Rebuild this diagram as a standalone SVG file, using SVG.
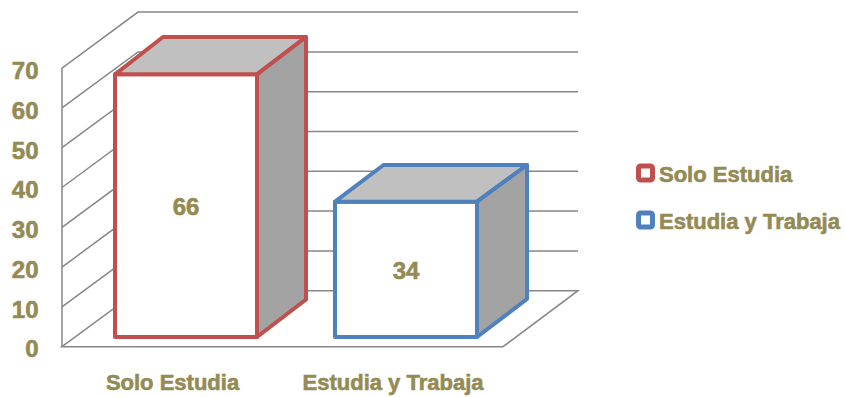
<svg xmlns="http://www.w3.org/2000/svg" width="846" height="397" viewBox="0 0 846 397">
<style>
.grid{stroke:#878787;stroke-width:1.5;fill:none}
.lbl{font-family:"Liberation Sans",Arial,sans-serif;font-weight:bold;fill:#948A54;stroke:#948A54;stroke-width:0.6}
.ax{font-size:24px;text-anchor:end}
.cat{font-size:22px;text-anchor:middle}
.val{font-size:24px;text-anchor:middle}
.leg{font-size:22px}
.front{fill:#FFFFFF}
.top{fill:#C0C0C0}
.side{fill:#A3A3A3}
.red{stroke:#C0504D;stroke-width:4;stroke-linejoin:round}
.blue{stroke:#4F81BD;stroke-width:4;stroke-linejoin:round}
</style>
<rect width="846" height="397" fill="#FFFFFF"/>
<g id="grid">
<path class="grid" d="M62,346.7 V68.1 L138,12.1 H578"/>
<path class="grid" d="M62,306.9 L138,250.9 H578"/>
<path class="grid" d="M62,267.1 L138,211.1 H578"/>
<path class="grid" d="M62,227.3 L138,171.3 H578"/>
<path class="grid" d="M62,187.5 L138,131.5 H578"/>
<path class="grid" d="M62,147.7 L138,91.7 H578"/>
<path class="grid" d="M62,107.9 L138,51.9 H578"/>
<path class="grid" d="M62,346.7 L138,290.7 H578 L503,346.7 Z"/>
</g>
<g id="axis-labels">
<text class="lbl ax" x="38.5" y="79.3">70</text>
<text class="lbl ax" x="38.5" y="119">60</text>
<text class="lbl ax" x="38.5" y="158.7">50</text>
<text class="lbl ax" x="38.5" y="198.4">40</text>
<text class="lbl ax" x="38.5" y="238.1">30</text>
<text class="lbl ax" x="38.5" y="277.8">20</text>
<text class="lbl ax" x="38.5" y="317.5">10</text>
<text class="lbl ax" x="38.5" y="357.2">0</text>
<text class="lbl cat" x="172.5" y="390">Solo Estudia</text>
<text class="lbl cat" x="393" y="389.5">Estudia y Trabaja</text>
</g>
<g id="bar-solo-estudia">
<polygon class="front red" points="115,74.3 257,74.3 257,337 115,337"/>
<polygon class="top red" points="115,74.3 163,37 306,37 257,74.3"/>
<polygon class="side red" points="257,74.3 306,37 306,299.5 257,337"/>
<text class="lbl val" x="186" y="215">66</text>
</g>
<g id="bar-estudia-trabaja">
<polygon class="front blue" points="335,201.7 477,201.7 477,337 335,337"/>
<polygon class="top blue" points="335,201.7 383.5,165 527,165 477,201.7"/>
<polygon class="side blue" points="477,201.7 527,165 527,299 477,337"/>
<text class="lbl val" x="406" y="279.3">34</text>
</g>
<g id="legend-solo-estudia">
<rect x="638.5" y="166" width="14" height="14" rx="2" fill="#FFFFFF" stroke="#C0504D" stroke-width="5"/>
<text class="lbl leg" x="659" y="181.7">Solo Estudia</text>
</g>
<g id="legend-estudia-trabaja">
<rect x="638.5" y="213" width="14" height="14" rx="2" fill="#FFFFFF" stroke="#4F81BD" stroke-width="5"/>
<text class="lbl leg" x="659" y="229.3">Estudia y Trabaja</text>
</g>
</svg>
